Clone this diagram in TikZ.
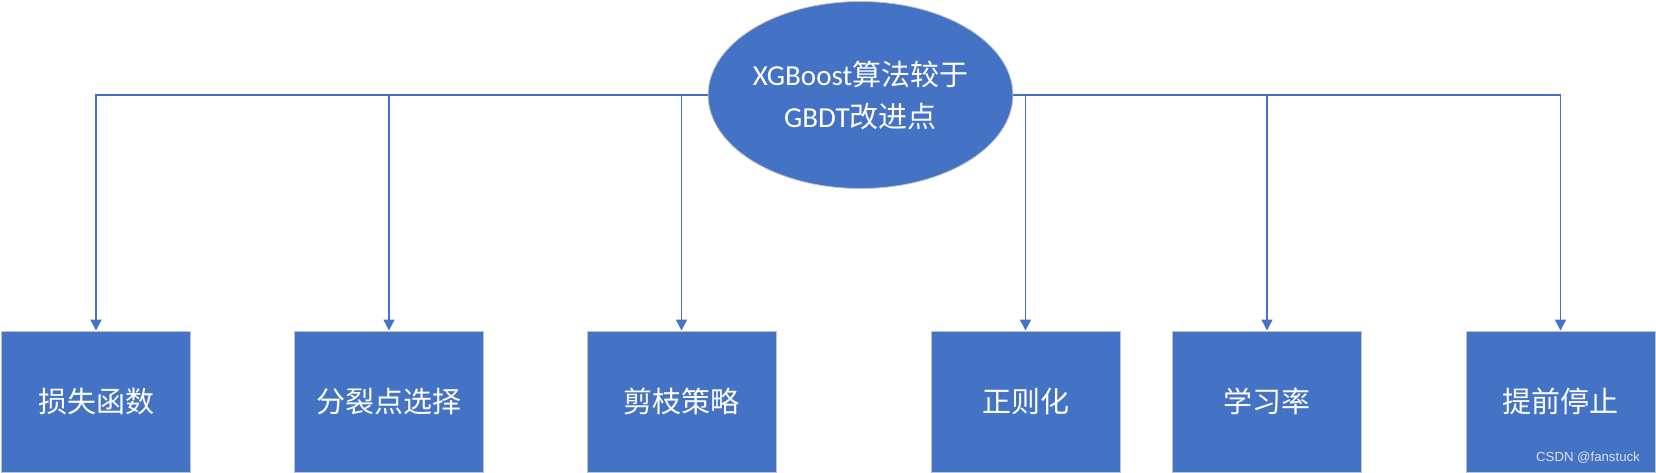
\documentclass[tikz,border=0pt]{standalone}
\usepackage{fontspec}
\newfontfamily\cjk{Noto Sans CJK SC}
\newfontfamily\latin{Carlito}
\newfontfamily\wm{Liberation Sans}
\usetikzlibrary{arrows.meta,shapes.geometric}
\definecolor{officeblue}{RGB}{68,114,196}
\definecolor{boxedge}{RGB}{190,196,206}
\definecolor{wmgray}{RGB}{222,226,234}
\tikzset{
  leaf/.style={rectangle, fill=officeblue, draw=boxedge, line width=1pt,
    minimum width=189pt, minimum height=141pt, inner sep=0pt,
    text=white, font=\cjk\fontsize{29}{34}\selectfont},
  rootnode/.style={ellipse, fill=officeblue, draw=boxedge, line width=0.8pt,
    minimum width=283pt, minimum height=187pt, inner sep=0pt,
    text=white, align=center, font=\cjk\fontsize{29}{42}\selectfont},
  link/.style={draw=officeblue, line width=1.5pt,
    -{Triangle[width=11pt,length=11pt]}}
}
\begin{document}
\begin{tikzpicture}[x=1pt,y=-1pt]
\useasboundingbox (0,0) rectangle (1656,473);
\fill[white] (0,0) rectangle (1656,473);
\node[rootnode] (root) at (860.5,95) {{\latin XGBoost}算法较于\\{\latin GBDT}改进点};
\node[leaf] (b1) at (96,401.5) {损失函数};
\node[leaf] (b2) at (389,401.5) {分裂点选择};
\node[leaf] (b3) at (681.5,401.5) {剪枝策略};
\node[leaf] (b4) at (1025.5,401.5) {正则化};
\node[leaf] (b5) at (1267,401.5) {学习率};
\node[leaf] (b6) at (1560.5,401.5) {提前停止};
\draw[link] (root.west) -| (b1.north);
\draw[link] (root.west) -| (b2.north);
\draw[link] (root.west) -| (b3.north);
\draw[link] (root.east) -| (b4.north);
\draw[link] (root.east) -| (b5.north);
\draw[link] (root.east) -| (b6.north);
\node[text=wmgray, font=\wm\fontsize{13.2}{15}\selectfont, anchor=east, inner sep=0pt] (wmk) at (1640,457.5) {CSDN @fanstuck};
\end{tikzpicture}
\end{document}
